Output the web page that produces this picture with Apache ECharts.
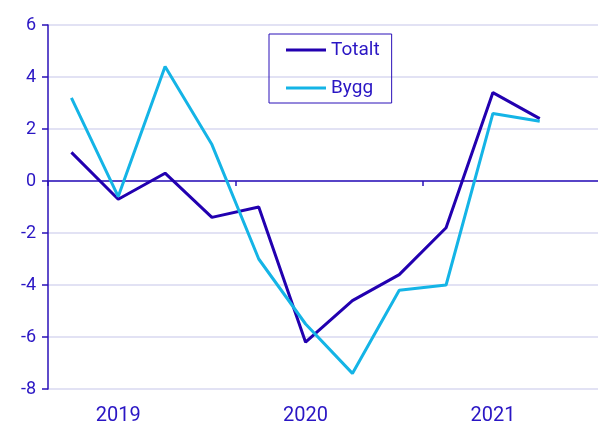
<!DOCTYPE html>
<html>
<head>
<meta charset="utf-8">
<script src="https://cdn.jsdelivr.net/npm/echarts@6/dist/echarts.min.js"></script>
<style>
  html, body { margin: 0; padding: 0; background: #fff; }
  #chart { width: 598px; height: 426px; }
</style>
</head>
<body>
<div id="chart"></div>
<script>
  // kvartal 2019 K1 .. 2021 K4, etikett bara på vissa
  var categories = ['2019K1', '2019K2', '2019K3', '2019K4', '2020K1', '2020K2', '2020K3', '2020K4', '2021K1', '2021K2', '2021K3', '2021K4'];
  var tickLabels = ['', '2019', '', '', '', '2020', '', '', '', '2021', '', ''];
  var totalt = [1.1, -0.7, 0.3, -1.4, -1.0, -6.2, -4.6, -3.6, -1.8, 3.4, 2.4];
  var bygg = [3.2, -0.6, 4.4, 1.4, -3.0, -5.5, -7.4, -4.2, -4.0, 2.6, 2.3];

  var textColor = '#2a16c4';
  var axisColor = '#2a10b8';

  var chart = echarts.init(document.getElementById('chart'));
  var option = {
    animation: false,
    textStyle: { fontFamily: 'Roboto' },
    // griden går lite utanför bilden till höger
    grid: { left: 48, top: 25, width: 562, height: 364, containLabel: false, outerBoundsMode: 'none' },
    legend: {
      left: 269,
      top: 34,
      orient: 'vertical',
      icon: 'rect',
      itemWidth: 40,
      itemHeight: 3,
      itemGap: 18,
      padding: [6, 12, 5, 17],
      borderColor: axisColor,
      borderWidth: 1,
      textStyle: { color: textColor, fontSize: 19, lineHeight: 20, fontFamily: 'Roboto' },
      data: ['Totalt', 'Bygg']
    },
    xAxis: [
      {
        type: 'category',
        position: 'bottom',
        data: categories,
        axisLine: { show: false, onZero: false },
        axisTick: { show: false },
        axisLabel: {
          interval: 0,
          margin: 17,
          color: textColor,
          fontSize: 20,
          formatter: function (v, i) { return tickLabels[i]; }
        },
        splitLine: { show: false }
      },
      {
        type: 'category',
        position: 'top',
        data: categories,
        axisLine: { show: true, onZero: true, lineStyle: { color: axisColor, width: 1.5 } },
        axisTick: {
          show: true,
          inside: true,
          length: 5,
          interval: function (i) { return i % 4 === 0; },
          lineStyle: { color: axisColor, width: 1.5 }
        },
        axisLabel: { show: false },
        splitLine: { show: false }
      }
    ],
    yAxis: {
      type: 'value',
      min: -8,
      max: 6,
      interval: 2,
      axisLine: { show: true, lineStyle: { color: axisColor, width: 1.5 } },
      axisTick: { show: true, length: 6, lineStyle: { color: axisColor, width: 1.5 } },
      axisLabel: { color: textColor, fontSize: 18, margin: 12 },
      splitLine: { lineStyle: { color: '#d9d9f0', width: 1.5 } }
    },
    series: [
      {
        name: 'Totalt',
        type: 'line',
        xAxisIndex: 0,
        data: totalt,
        symbol: 'none',
        color: '#2200b0',
        lineStyle: { width: 3, color: '#2200b0' }
      },
      {
        name: 'Bygg',
        type: 'line',
        xAxisIndex: 0,
        data: bygg,
        symbol: 'none',
        color: '#14b4e6',
        lineStyle: { width: 3, color: '#14b4e6' }
      }
    ]
  };
  chart.setOption(option);
</script>
</body>
</html>
